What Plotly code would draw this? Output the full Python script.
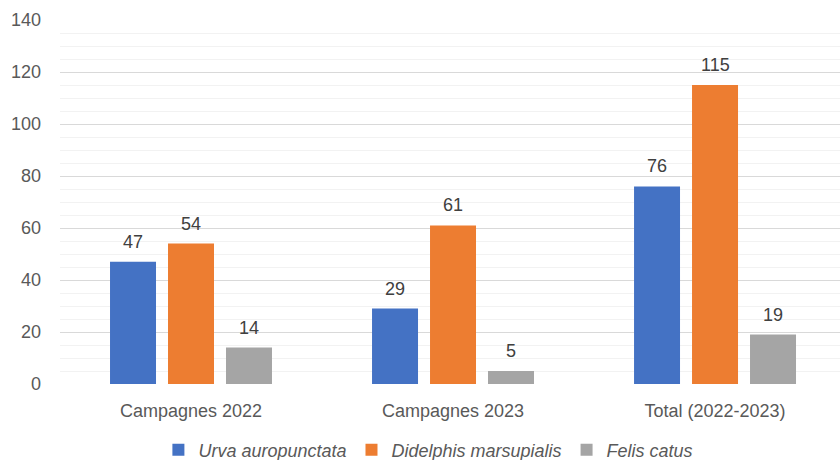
import plotly.graph_objects as go

categories = ["Campagnes 2022", "Campagnes 2023", "Total (2022-2023)"]
series_names = ["Urva auropunctata", "Didelphis marsupialis", "Felis catus"]
urva = [47, 29, 76]
didelphis = [54, 61, 115]
felis = [14, 5, 19]
y_ticks = [0, 20, 40, 60, 80, 100, 120, 140]

colors = ["#4472C4", "#ED7D31", "#A5A5A5"]
font_family = "Liberation Sans, Arial, sans-serif"

W, H = 840, 460
ML, MR, MT, MB = 60, 0, 20, 76
x_range = [-0.5, 2.477]
bargap, bargroupgap = 0.336, 0.207
px_per_cat = (W - ML - MR) / (x_range[1] - x_range[0])
slot_px = (1 - bargap) / 3 * px_per_cat

fig = go.Figure()
all_vals = [urva, didelphis, felis]
for i, (name, vals, col) in enumerate(zip(series_names, all_vals, colors)):
    fig.add_trace(go.Bar(
        x=categories, y=vals, name=name,
        marker=dict(color=col, line=dict(width=0)),
        hoverinfo="x+y",
    ))
    for c, v in zip(categories, vals):
        fig.add_annotation(x=c, y=v, text=str(v), showarrow=False,
                           xshift=(i - 1) * slot_px, yshift=8, yanchor="bottom",
                           font=dict(size=18, color="#404040", family=font_family))

fig.update_layout(
    width=W, height=H,
    margin=dict(l=ML, r=MR, t=MT, b=MB, autoexpand=False),
    paper_bgcolor="white", plot_bgcolor="white",
    barmode="group", bargap=bargap, bargroupgap=bargroupgap,
    font=dict(family=font_family, color="#595959", size=18),
    showlegend=True,
    legend=dict(orientation="h", xref="container", yref="container",
                x=0.51, xanchor="center", y=10 / H, yanchor="middle",
                font=dict(size=18, color="#595959", family=font_family, style="italic"),
                itemwidth=30, tracegroupgap=0, itemclick=False),
)
fig.update_xaxes(range=x_range, showline=False, showgrid=False, ticks="", automargin=False,
                 tickfont=dict(size=18, color="#595959"), ticklabelstandoff=14)
fig.update_yaxes(range=[0, 140], tickvals=y_ticks, showline=False, zeroline=False, automargin=False,
                 gridcolor="#D9D9D9", gridwidth=1,
                 minor=dict(dtick=5, showgrid=True, gridcolor="#F2F2F2", gridwidth=1),
                 tickfont=dict(size=18, color="#595959"), ticklabelstandoff=18)

fig.write_html("out.html", config={"displayModeBar": False},
               post_script="document.body.style.margin='0';document.body.style.overflow='hidden';")
